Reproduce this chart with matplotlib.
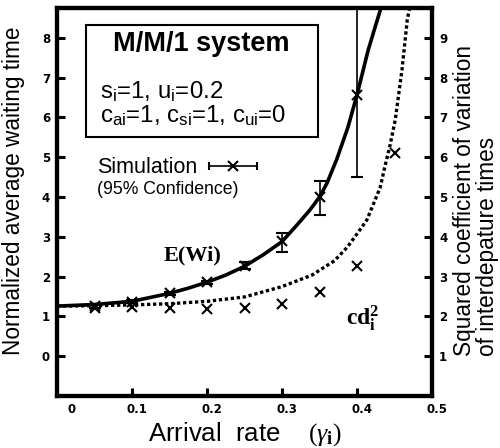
import matplotlib
matplotlib.use("Agg")
import matplotlib.pyplot as plt
import matplotlib.transforms as mtransforms

plt.rcParams['mathtext.fontset'] = 'custom'
plt.rcParams['mathtext.rm'] = 'Liberation Serif'
plt.rcParams['mathtext.it'] = 'Liberation Serif:italic'
plt.rcParams['mathtext.bf'] = 'Liberation Serif:bold'
plt.rcParams['mathtext.sf'] = 'Liberation Sans'

# datos
sim_x = [0.05, 0.1, 0.15, 0.2, 0.25, 0.3, 0.35, 0.4]
sim_w = [1.26, 1.37, 1.58, 1.86, 2.28, 2.9, 4.0, 6.57]
sim_lo = [1.22, 1.33, 1.54, 1.82, 2.2, 2.62, 3.55, 4.5]
sim_hi = [1.30, 1.41, 1.62, 1.9, 2.36, 3.09, 4.4, 9.2]

cd_x = [0.05, 0.1, 0.15, 0.2, 0.25, 0.3, 0.35, 0.4, 0.45]
cd_sim = [2.22, 2.24, 2.21, 2.18, 2.21, 2.31, 2.61, 3.27, 6.1]

ew_x = [0, 0.05, 0.1, 0.15, 0.175, 0.2, 0.225, 0.25, 0.275, 0.3, 0.32, 0.337,
        0.35, 0.36, 0.373, 0.388, 0.4, 0.415, 0.427, 0.432]
ew_y = [1.26, 1.3, 1.38, 1.58, 1.71, 1.86, 2.04, 2.26, 2.55, 2.88, 3.3, 3.67,
        4.0, 4.35, 4.95, 5.76, 6.57, 7.7, 8.45, 8.75]

cd_line_x = [0, 0.05, 0.1, 0.15, 0.2, 0.25, 0.3, 0.34, 0.37, 0.387, 0.401, 0.413,
             0.424, 0.431, 0.437, 0.444, 0.451, 0.46, 0.467, 0.47]
cd_line_y = [2.26, 2.27, 2.29, 2.32, 2.38, 2.49, 2.75, 3.04, 3.4, 3.74, 4.1, 4.42,
             4.92, 5.25, 5.75, 6.3, 6.94, 8.2, 9.45, 9.75]

left_ticks = [0, 1, 2, 3, 4, 5, 6, 7, 8]
right_ticks = [1, 2, 3, 4, 5, 6, 7, 8, 9]
x_ticks = [0, 0.1, 0.2, 0.3, 0.4, 0.5]

fig = plt.figure(figsize=(5, 4.48), dpi=100)
ax = fig.add_axes([0.114, 0.116, 0.75, 0.866])
ax2 = ax.twinx()

yerr = [[w - lo for w, lo in zip(sim_w, sim_lo)], [hi - w for w, hi in zip(sim_w, sim_hi)]]
ax.plot(ew_x, ew_y, color='black', lw=2.6, solid_capstyle='butt')
ax.errorbar(sim_x, sim_w, yerr=yerr, fmt='x', color='black', ms=7, mew=1.5,
            elinewidth=1.2, capsize=4, capthick=1.2)

ax2.plot(cd_line_x, cd_line_y, color='black', lw=2.4, linestyle=(0, (1, 0.8)))
ax2.plot(cd_x, cd_sim, 'x', color='black', ms=7, mew=1.5)

ax.set_xlim(0, 0.5)
ax.set_ylim(-1, 8.75)
ax2.set_ylim(0, 9.75)
ax.set_xticks(x_ticks)
ax.set_xticklabels(['0', '0.1', '0.2', '0.3', '0.4', '0.5'])
ax.set_yticks(left_ticks)
ax2.set_yticks(right_ticks)

for a in (ax, ax2):
    for s in a.spines.values():
        s.set_linewidth(3)
    a.tick_params(direction='in', length=6, width=2.2, labelsize=8.5, pad=5)
for lab in ax.get_xticklabels() + ax.get_yticklabels() + ax2.get_yticklabels():
    lab.set_family('DejaVu Sans')
    lab.set_weight('bold')

# etiquetas del eje x corridas a la derecha como en el original
for i, lab in enumerate(ax.get_xticklabels()):
    dx = 0.15 if i == 0 else 0.05
    lab.set_transform(lab.get_transform() + mtransforms.ScaledTranslation(dx, 0, fig.dpi_scale_trans))

ax.set_xlabel(r"Arrival  rate    $(\gamma_\mathbf{i})$", fontsize=18.5, family='Liberation Sans', labelpad=3)
ax.set_ylabel("Normalized average waiting time", fontsize=16.3, family='Liberation Sans')
ax.yaxis.set_label_coords(-0.085, 0.528)
fig.text(0.998, 0.205, "Squared coefficient of variation\nof interdepature times",
         rotation=90, fontsize=16.3, family='Liberation Sans', ha='right', va='bottom',
         multialignment='left', linespacing=1.0)

# recuadro
box = plt.Rectangle((0.077, 0.668), 0.619, 0.288, transform=ax.transAxes,
                    fill=False, lw=1.5, color='black')
ax.add_patch(box)
ax.text(0.384, 0.907, "M/M/1 system", transform=ax.transAxes, ha='center', va='center',
        fontsize=19.5, weight='bold', family='Liberation Sans')
ax.text(0.115, 0.784, r"s$_\mathsf{i}$=1, u$_\mathsf{i}$=0.2", transform=ax.transAxes,
        ha='left', va='center', fontsize=17.3, family='Liberation Sans')
ax.text(0.115, 0.722, r"c$_\mathsf{ai}$=1, c$_\mathsf{si}$=1, c$_\mathsf{ui}$=0",
        transform=ax.transAxes, ha='left', va='center', fontsize=17.3, family='Liberation Sans')

# leyenda de la simulacion
ax.text(0.107, 0.588, "Simulation", transform=ax.transAxes, ha='left', va='center',
        fontsize=15.5, family='Liberation Sans')
ax.text(0.107, 0.533, "(95% Confidence)", transform=ax.transAxes, ha='left', va='center',
        fontsize=12.7, family='Liberation Sans')
ax.errorbar([0.469], [0.594], xerr=[0.063], fmt='x', color='black', ms=7, mew=1.5,
            elinewidth=1.2, capsize=3, capthick=1.2, transform=ax.transAxes, clip_on=False)

ax.text(0.362, 0.361, "E(Wi)", transform=ax.transAxes, ha='center', va='center',
        fontsize=16, weight='bold', family='Liberation Serif')
ax.text(0.77, 0.2, r"cd$_\mathbf{i}^\mathbf{2}$", transform=ax.transAxes, ha='left',
        va='center', fontsize=17, weight='bold', family='Liberation Serif')

fig.savefig("out.png", dpi=100)
